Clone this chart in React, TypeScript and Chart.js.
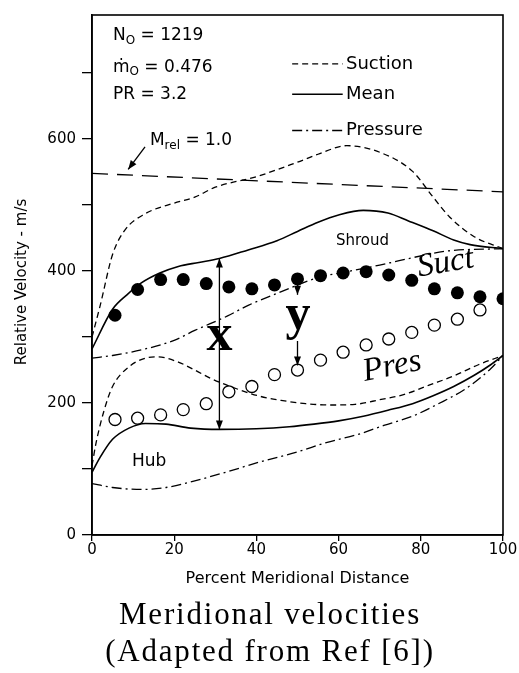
import React, { useEffect, useRef } from "react";
import { Chart, registerables } from "chart.js";
Chart.register(...registerables);

// ---- data (x = percent meridional distance, value = relative velocity m/s)
const shroudSuctionX = [0, 2, 5, 8, 13, 20, 25, 30, 40, 50, 55, 62, 70, 78, 83, 87, 93, 100];
const shroudSuctionV = [300, 348, 425, 462, 487, 503, 512, 527, 543, 565, 577, 590, 580, 551, 512, 482, 452, 434];

const shroudMeanX = [0, 5, 8.5, 12, 16.5, 21, 26, 31, 38, 45, 50, 55, 60, 66, 72, 77, 83, 88, 92, 100];
const shroudMeanV = [282, 342, 364, 382, 397, 407, 413, 419, 432, 446, 460, 474, 485, 492, 488, 476, 461, 447, 440, 434];

const shroudPressureX = [0, 5, 13, 20, 25, 33, 38, 45, 55, 62, 70, 75, 86, 100];
const shroudPressureV = [268, 272, 282, 295, 310, 332, 348, 366, 390, 399, 409, 416, 430, 434];

const hubSuctionX = [0, 1, 3, 5, 9, 13, 16, 21, 25, 29, 35, 41, 46, 52, 58, 64, 70, 76, 82, 88, 94, 100];
const hubSuctionV = [105, 140, 190, 225, 255, 268, 270, 262, 250, 237, 222, 210, 204, 199, 197, 198, 205, 213, 227, 241, 258, 272];

const hubMeanX = [0, 2, 5, 9, 13, 18, 24, 31, 40, 48, 54, 60, 66, 72, 78, 83, 88, 93, 97, 100];
const hubMeanV = [95, 118, 145, 162, 169, 168, 162, 160, 161, 164, 168, 173, 180, 189, 199, 211, 225, 242, 258, 272];

const hubPressureX = [0, 5, 12, 18, 25, 33, 41, 50, 57, 65, 71, 78, 84, 91, 97, 100];
const hubPressureV = [78, 72, 69, 72, 82, 96, 111, 126, 140, 153, 166, 180, 198, 222, 252, 272];

const mrelX = [0, 100];
const mrelV = [548, 520];

const suctDataX = [5.6, 11.1, 16.7, 22.2, 27.8, 33.3, 38.9, 44.4, 50, 55.6, 61.1, 66.7, 72.2, 77.8, 83.3, 88.9, 94.4, 100];
const suctDataV = [333, 372, 387, 387, 381, 376, 373, 379, 388, 393, 397, 399, 394, 386, 373, 367, 361, 358];

const presDataX = [5.6, 11.1, 16.7, 22.2, 27.8, 33.3, 38.9, 44.4, 50, 55.6, 61.1, 66.7, 72.2, 77.8, 83.3, 88.9, 94.4];
const presDataV = [175, 177, 182, 190, 199, 217, 225, 243, 250, 265, 277, 288, 297, 307, 318, 327, 341];

const xTicks = [0, 20, 40, 60, 80, 100];
const yLabelled = [0, 200, 400, 600];

const pts = (xs: number[], vs: number[]) => xs.map((x, i) => ({ x, y: vs[i] }));

const SANS = "'DejaVu Sans', sans-serif";
const SERIF = "'Liberation Serif', serif";

const DASH_SUCTION = [6, 4];
const DASH_PRESSURE = [10, 4, 2, 4];

const annotationPlugin = {
  id: "annotations",
  afterDatasetsDraw(chart: any) {
    const { ctx, chartArea, scales } = chart;
    const sx = scales.x;
    const sy = scales.y;
    const px = (v: number) => sx.getPixelForValue(v);
    const py = (v: number) => sy.getPixelForValue(v);
    ctx.save();
    // frame
    ctx.strokeStyle = "#000";
    ctx.lineWidth = 1.6;
    ctx.setLineDash([]);
    ctx.strokeRect(chartArea.left, chartArea.top, chartArea.right - chartArea.left, chartArea.bottom - chartArea.top);

    ctx.fillStyle = "#000";
    const text = (s: string, x: number, y: number, font: string, align: CanvasTextAlign = "left") => {
      ctx.font = font;
      ctx.textAlign = align;
      ctx.textBaseline = "middle";
      ctx.fillText(s, x, y);
    };
    const sub = (main: string, subs: string, rest: string, x: number, y: number) => {
      ctx.font = `17px ${SANS}`;
      ctx.textAlign = "left";
      ctx.textBaseline = "middle";
      ctx.fillText(main, x, y);
      let w = ctx.measureText(main).width;
      ctx.font = `12px ${SANS}`;
      ctx.fillText(subs, x + w, y + 5);
      w += ctx.measureText(subs).width;
      ctx.font = `17px ${SANS}`;
      ctx.fillText(rest, x + w, y);
    };

    // y axis title
    ctx.save();
    ctx.translate(22, 282);
    ctx.rotate(-Math.PI / 2);
    text("Relative Velocity - m/s", 0, 0, `15px ${SANS}`, "center");
    ctx.restore();

    // parameters block
    sub("N", "O", " = 1219", px(5.1), py(757));
    sub("\u1E41", "O", " = 0.476", px(5.1), py(709));
    sub("PR", "", " = 3.2", px(5.1), py(668));
    sub("M", "rel", " = 1.0", px(14.1), py(598));

    const arrowHead = (x1: number, y1: number, x2: number, y2: number, len = 9, wid = 3.5) => {
      const a = Math.atan2(y2 - y1, x2 - x1);
      ctx.beginPath();
      ctx.moveTo(x2, y2);
      ctx.lineTo(x2 - len * Math.cos(a) + wid * Math.sin(a), y2 - len * Math.sin(a) - wid * Math.cos(a));
      ctx.lineTo(x2 - len * Math.cos(a) - wid * Math.sin(a), y2 - len * Math.sin(a) + wid * Math.cos(a));
      ctx.closePath();
      ctx.fill();
    };
    const arrow = (x1: number, y1: number, x2: number, y2: number) => {
      ctx.lineWidth = 1.3;
      ctx.setLineDash([]);
      ctx.beginPath();
      ctx.moveTo(x1, y1);
      ctx.lineTo(x2, y2);
      ctx.stroke();
      arrowHead(x1, y1, x2, y2);
    };
    // Mrel pointer
    arrow(px(12.9), py(588), px(8.8), py(554));

    // legend
    const legendRow = (dash: number[], label: string, v: number) => {
      ctx.lineWidth = 1.4;
      ctx.setLineDash(dash);
      ctx.beginPath();
      ctx.moveTo(px(48.7), py(v));
      ctx.lineTo(px(61), py(v));
      ctx.stroke();
      ctx.setLineDash([]);
      text(label, px(61.8), py(v), `18px ${SANS}`);
    };
    legendRow(DASH_SUCTION, "Suction", 714);
    legendRow([], "Mean", 668);
    legendRow(DASH_PRESSURE, "Pressure", 613);

    // labels
    text("Shroud", px(65.8), py(445), `15px ${SANS}`, "center");
    text("Hub", px(13.9), py(111), `17px ${SANS}`, "center");
    const rot = (s: string, x: number, y: number, ang: number) => {
      ctx.save();
      ctx.translate(x, y);
      ctx.rotate(ang);
      text(s, 0, 0, `italic 33px ${SERIF}`, "center");
      ctx.restore();
    };
    rot("Suct", px(86), py(412), -0.17);
    rot("Pres", px(73), py(255), -0.2);

    // x arrow (double headed)
    ctx.lineWidth = 1.3;
    ctx.beginPath();
    ctx.moveTo(px(31), py(419));
    ctx.lineTo(px(31), py(160));
    ctx.stroke();
    arrowHead(px(31), py(300), px(31), py(419));
    arrowHead(px(31), py(300), px(31), py(160));
    text("x", px(31), py(300), `bold 52px ${SERIF}`, "center");

    // y arrows
    arrow(px(50), py(388), px(50), py(364));
    arrow(px(50), py(294), px(50), py(257));
    text("y", px(50.1), py(331), `bold 50px ${SERIF}`, "center");
    ctx.restore();
  },
};

export default function App() {
  const ref = useRef<HTMLCanvasElement | null>(null);
  useEffect(() => {
    if (!ref.current) return;
    const line = (label: string, xs: number[], vs: number[], dash: number[], width = 1.4) => ({
      label,
      data: pts(xs, vs),
      showLine: true,
      borderColor: "#000",
      borderWidth: width,
      borderDash: dash,
      pointRadius: 0,
      fill: false,
      tension: 0.4,
      cubicInterpolationMode: "monotone",
    });
    const chart = new Chart(ref.current, {
      type: "scatter",
      data: {
        datasets: [
          line("Shroud suction", shroudSuctionX, shroudSuctionV, DASH_SUCTION, 1.3),
          line("Shroud mean", shroudMeanX, shroudMeanV, [], 1.6),
          line("Shroud pressure", shroudPressureX, shroudPressureV, DASH_PRESSURE, 1.3),
          line("Hub suction", hubSuctionX, hubSuctionV, DASH_SUCTION, 1.3),
          line("Hub mean", hubMeanX, hubMeanV, [], 1.6),
          line("Hub pressure", hubPressureX, hubPressureV, DASH_PRESSURE, 1.3),
          { ...line("Mrel = 1.0", mrelX, mrelV, [16, 9], 1.3), tension: 0 },
          {
            label: "Suct",
            data: pts(suctDataX, suctDataV),
            showLine: false,
            pointRadius: 6.5,
            pointBackgroundColor: "#000",
            pointBorderColor: "#000",
            pointBorderWidth: 0,
          },
          {
            label: "Pres",
            data: pts(presDataX, presDataV),
            showLine: false,
            pointRadius: 6,
            pointBackgroundColor: "#fff",
            pointBorderColor: "#000",
            pointBorderWidth: 1.3,
          },
        ] as any,
      },
      options: {
        animation: false,
        responsive: false,
        devicePixelRatio: 1,
        layout: { padding: { top: 10, right: 16, bottom: 83, left: 0 } },
        plugins: { legend: { display: false }, tooltip: { enabled: false } },
        scales: {
          x: {
            type: "linear",
            min: 0,
            max: 100,
            afterFit: (s: any) => { s.height = 55; },
            afterBuildTicks: (s: any) => { s.ticks = xTicks.map((v) => ({ value: v })); },
            grid: { drawOnChartArea: false, drawTicks: true, tickLength: 6, color: "#000", lineWidth: 1.3 },
            border: { display: true, color: "#000", width: 1.6 },
            ticks: { color: "#000", padding: 0, font: { family: SANS, size: 15 }, maxRotation: 0 },
            title: {
              display: true,
              text: "Percent Meridional Distance",
              color: "#000",
              font: { family: SANS, size: 16 },
              padding: { top: 0, bottom: 2 },
            },
          },
          y: {
            type: "linear",
            min: 0,
            max: 788,
            afterFit: (s: any) => { s.width = 92; },
            grid: { drawOnChartArea: false, drawTicks: true, tickLength: 10, color: "#000", lineWidth: 1.3 },
            border: { display: true, color: "#000", width: 1.6 },
            ticks: {
              stepSize: 100,
              includeBounds: false,
              color: "#000",
              padding: 6,
              font: { family: SANS, size: 15 },
              callback: (v: any) => (yLabelled.includes(Number(v)) ? String(v) : ""),
            },
          },
        },
      },
      plugins: [annotationPlugin],
    } as any);
    return () => chart.destroy();
  }, []);

  return (
    <div style={{ position: "absolute", left: 0, top: 0, width: 519, height: 673, background: "#fff", overflow: "hidden" }}>
      <canvas ref={ref} width={519} height={673} style={{ position: "absolute", left: 0, top: 0, width: 519, height: 673 }} />
      <div
        style={{
          position: "absolute",
          left: 0,
          top: 595,
          width: 540,
          textAlign: "center",
          fontFamily: SERIF,
          fontSize: 31,
          lineHeight: "37px",
          letterSpacing: "1.8px",
          color: "#000",
        }}
      >
        <div>Meridional velocities</div>
        <div>(Adapted from Ref [6])</div>
      </div>
    </div>
  );
}
